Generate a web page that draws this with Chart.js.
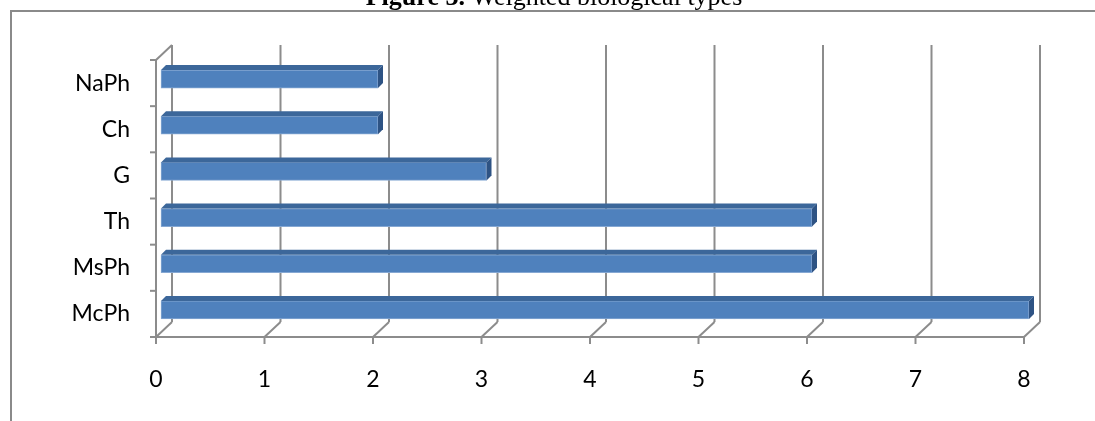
<!DOCTYPE html>
<html>
<head>
<meta charset="utf-8">
<script src="https://cdn.jsdelivr.net/npm/chart.js@4"></script>
<style>
  html, body { margin: 0; padding: 0; background: #ffffff; }
  #wrap { width: 1095px; height: 421px; position: relative; }
</style>
</head>
<body>
<div id="wrap"><canvas id="chart" width="1095" height="421"></canvas></div>
<script>
// Weighted biological types
const categories = ['NaPh', 'Ch', 'G', 'Th', 'MsPh', 'McPh'];
const values = [2, 2, 3, 6, 6, 8];
const xTickValues = [0, 1, 2, 3, 4, 5, 6, 7, 8];

// pseudo-3D geometry (pixels)
const WALL = { dx: 16, dy: -15 };      // back wall offset from the front plane
const BAR_SHIFT = { dx: 5, dy: -4 };   // bar front face offset
const BAR_DEPTH = { dx: 5, dy: -5 };   // bar box depth

const AXIS_COLOR = '#8c8c8c';

function line(ctx, x1, y1, x2, y2) {
  ctx.beginPath();
  ctx.moveTo(x1, y1);
  ctx.lineTo(x2, y2);
  ctx.stroke();
}

const threeD = {
  id: 'threeD',
  beforeDraw(chart) {
    const ctx = chart.ctx;
    ctx.save();
    ctx.fillStyle = '#ffffff';
    ctx.fillRect(0, 0, chart.width, chart.height);
    // outer frame
    ctx.strokeStyle = '#8a8a8a';
    ctx.lineWidth = 2;
    line(ctx, 10, 11, chart.width, 11);
    line(ctx, 11, 11, 11, chart.height);
    // caption
    ctx.fillStyle = '#000000';
    ctx.textBaseline = 'alphabetic';
    ctx.textAlign = 'left';
    const bold = 'bold 26px "Liberation Serif", "Times New Roman", serif';
    const reg = '26px "Liberation Serif", "Times New Roman", serif';
    const p1 = 'Figure 3.';
    const p2 = ' Weighted biological types';
    ctx.font = bold;
    const w1 = ctx.measureText(p1).width;
    ctx.font = reg;
    const w2 = ctx.measureText(p2).width;
    const x0 = 554 - (w1 + w2) / 2;
    ctx.font = bold;
    ctx.fillText(p1, x0, 5);
    ctx.font = reg;
    ctx.fillText(p2, x0 + w1, 5);
    ctx.restore();
  },
  beforeDatasetsDraw(chart) {
    const { ctx, chartArea: a, scales: { x, y } } = chart;
    ctx.save();
    ctx.strokeStyle = AXIS_COLOR;
    ctx.lineWidth = 2;
    ctx.lineCap = 'butt';
    // back wall grid lines, floor diagonals and bottom ticks
    xTickValues.forEach(v => {
      const px = x.getPixelForValue(v);
      line(ctx, px + WALL.dx, a.top + WALL.dy, px + WALL.dx, a.bottom + WALL.dy);
      line(ctx, px, a.bottom, px + WALL.dx, a.bottom + WALL.dy);
      line(ctx, px, a.bottom - 1, px, a.bottom + 7);
    });
    // front value axis
    line(ctx, a.left, a.bottom, a.right, a.bottom);
    // front category axis with its top diagonal
    line(ctx, a.left, a.top, a.left, a.bottom);
    line(ctx, a.left, a.top, a.left + WALL.dx, a.top + WALL.dy);
    // category tick marks at boundaries
    for (let i = 0; i <= categories.length; i++) {
      const py = y.getPixelForValue(i - 0.5);
      line(ctx, a.left - 6, py, a.left, py);
    }
    ctx.restore();
    // bars sit a little behind the front plane
    ctx.save();
    ctx.translate(BAR_SHIFT.dx, BAR_SHIFT.dy);
  },
  afterDatasetsDraw(chart) {
    const ctx = chart.ctx;
    const meta = chart.getDatasetMeta(0);
    meta.data.forEach(bar => {
      const p = bar.getProps(['x', 'y', 'base', 'height'], true);
      const top = p.y - p.height / 2;
      const bottom = p.y + p.height / 2;
      const left = p.base;
      const right = p.x;
      // top face
      ctx.fillStyle = '#3c679a';
      ctx.beginPath();
      ctx.moveTo(left, top);
      ctx.lineTo(right, top);
      ctx.lineTo(right + BAR_DEPTH.dx, top + BAR_DEPTH.dy);
      ctx.lineTo(left + BAR_DEPTH.dx, top + BAR_DEPTH.dy);
      ctx.closePath();
      ctx.fill();
      // end face
      ctx.fillStyle = '#2e5384';
      ctx.beginPath();
      ctx.moveTo(right, top);
      ctx.lineTo(right + BAR_DEPTH.dx, top + BAR_DEPTH.dy);
      ctx.lineTo(right + BAR_DEPTH.dx, bottom + BAR_DEPTH.dy);
      ctx.lineTo(right, bottom);
      ctx.closePath();
      ctx.fill();
    });
    ctx.restore();
  }
};

const tickFont = { family: 'Lato, "Open Sans", sans-serif', size: 23 };

new Chart(document.getElementById('chart'), {
  type: 'bar',
  data: {
    labels: categories,
    datasets: [{
      data: values,
      backgroundColor: '#4f81bd',
      borderColor: '#86a8d3',
      borderWidth: 1,
      borderSkipped: false,
      barThickness: 18,
      clip: false
    }]
  },
  options: {
    indexAxis: 'y',
    responsive: false,
    animation: false,
    devicePixelRatio: 1,
    layout: { padding: { top: 60, right: 71, left: 0, bottom: 0 } },
    plugins: {
      legend: { display: false },
      title: { display: false },
      tooltip: { enabled: false }
    },
    scales: {
      x: {
        type: 'linear',
        min: 0,
        max: 8,
        afterBuildTicks(scale) { scale.ticks = xTickValues.map(v => ({ value: v })); },
        afterFit(scale) { scale.height = 84; },
        grid: { display: false, drawTicks: false },
        border: { display: false },
        ticks: { color: '#000000', font: tickFont, padding: 29, maxRotation: 0 }
      },
      y: {
        type: 'category',
        afterFit(scale) { scale.width = 156; },
        grid: { display: false, drawTicks: false },
        border: { display: false },
        ticks: { color: '#000000', font: tickFont, padding: 26 }
      }
    }
  },
  plugins: [threeD]
});
</script>
</body>
</html>
